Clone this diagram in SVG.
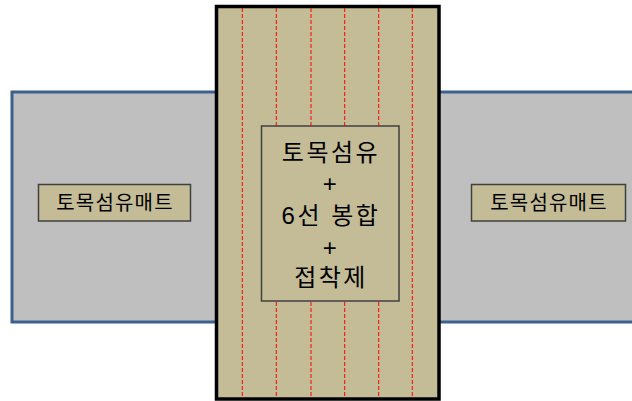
<svg xmlns="http://www.w3.org/2000/svg" width="632" height="401" viewBox="0 0 632 401">
<style>
.mat{fill:#BFBFBF;stroke:#3C6090;stroke-width:3}
.lbl{fill:#C4BC96;stroke:#404040;stroke-width:1.5}
.seam{stroke:#FF0000;stroke-width:1;stroke-dasharray:4 2}
text{font-family:"Liberation Sans","Noto Sans CJK KR",sans-serif;fill:#000;text-anchor:middle;dominant-baseline:central}
.side{font-size:20px;letter-spacing:1.2px}
.mid{font-size:24px;letter-spacing:2.5px}
</style>
<g id="mat-left">
<rect class="mat" x="12" y="92" width="230" height="230"/>
<rect class="lbl" x="38.5" y="184.5" width="152" height="36.5"/>
<text class="side" x="115" y="203">토목섬유매트</text>
</g>
<g id="mat-right">
<rect class="mat" x="420" y="92" width="240" height="230"/>
<rect class="lbl" x="471.5" y="184.5" width="154" height="36.5"/>
<text class="side" x="549" y="203">토목섬유매트</text>
</g>
<g id="joint">
<rect x="216.5" y="6.5" width="222.5" height="392.5" fill="#C4BC96" stroke="#000" stroke-width="3.5"/>
</g>
<g id="seams">
<line class="seam" x1="242.3" y1="8" x2="242.3" y2="398"/>
<line class="seam" x1="276.3" y1="8" x2="276.3" y2="398"/>
<line class="seam" x1="311" y1="8" x2="311" y2="398"/>
<line class="seam" x1="344.7" y1="8" x2="344.7" y2="398"/>
<line class="seam" x1="378.7" y1="8" x2="378.7" y2="398"/>
<line class="seam" x1="412.3" y1="8" x2="412.3" y2="398"/>
</g>
<g id="joint-label">
<rect class="lbl" x="261.5" y="126" width="137.5" height="175" stroke="#333"/>
<text class="mid" x="331" y="152">토목섬유</text>
<text class="mid" x="331" y="183">+</text>
<text class="mid" x="331" y="215">6선 봉합</text>
<text class="mid" x="331" y="247">+</text>
<text class="mid" x="331" y="277">접착제</text>
</g>
</svg>
